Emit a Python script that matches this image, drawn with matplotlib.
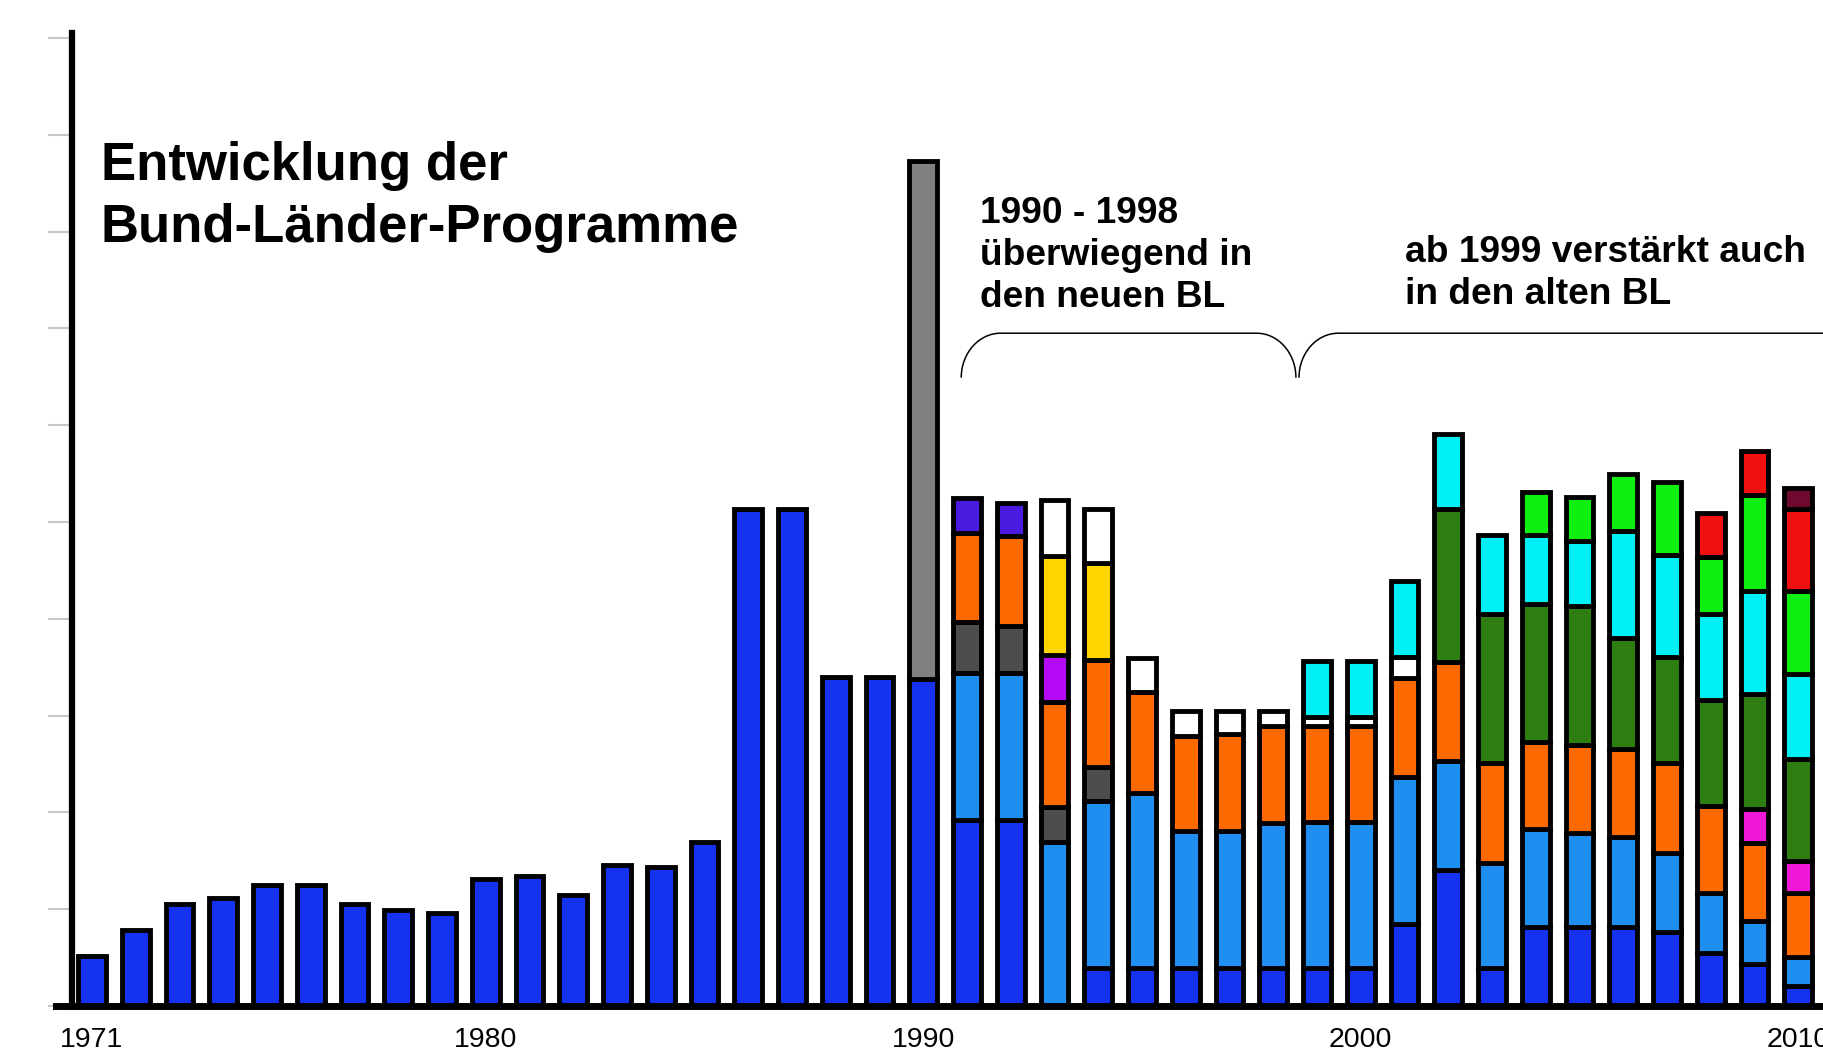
import numpy as np
import matplotlib
matplotlib.use("Agg")
import matplotlib.pyplot as plt
from matplotlib.path import Path
from matplotlib.patches import PathPatch

# early years: only one programme (blue)
years_early = [1971, 1972, 1973, 1974, 1975, 1976, 1977, 1978, 1979, 1980,
               1981, 1982, 1983, 1984, 1985, 1986, 1987, 1988, 1989]
blue_early = [0.52, 0.78, 1.05, 1.12, 1.25, 1.25, 1.05, 0.99, 0.96, 1.31,
              1.34, 1.15, 1.46, 1.44, 1.69, 5.13, 5.13, 3.40, 3.40]

# 1990 - 2010, stacked programmes (bottom -> top)
years_late = [1990, 1991, 1992, 1993, 1994, 1995, 1996, 1997, 1998, 1999, 2000,
              2001, 2002, 2003, 2004, 2005, 2006, 2007, 2008, 2009, 2010]
blue = [3.38, 1.92, 1.92, 0, 0.39, 0.39, 0.39, 0.39, 0.39, 0.39, 0.39,
        0.85, 1.40, 0.39, 0.82, 0.82, 0.82, 0.76, 0.55, 0.43, 0.21]
lightblue = [0, 1.52, 1.52, 1.69, 1.73, 1.81, 1.42, 1.42, 1.50, 1.51, 1.51,
             1.52, 1.13, 1.09, 1.01, 0.97, 0.93, 0.82, 0.62, 0.45, 0.30]
darkgray = [0, 0.53, 0.49, 0.37, 0.35, 0, 0, 0, 0, 0, 0,
            0, 0, 0, 0, 0, 0, 0, 0, 0, 0]
orange = [0, 0.92, 0.92, 1.08, 1.10, 1.04, 0.98, 1.00, 1.00, 0.99, 0.99,
          1.02, 1.02, 1.03, 0.90, 0.91, 0.90, 0.93, 0.90, 0.80, 0.66]
magenta = [0, 0, 0, 0, 0, 0, 0, 0, 0, 0, 0,
           0, 0, 0, 0, 0, 0, 0, 0, 0.35, 0.33]
violet = [0, 0, 0, 0.49, 0, 0, 0, 0, 0, 0, 0,
          0, 0, 0, 0, 0, 0, 0, 0, 0, 0]
yellow = [0, 0, 0, 1.02, 1.01, 0, 0, 0, 0, 0, 0,
          0, 0, 0, 0, 0, 0, 0, 0, 0, 0]
indigo = [0, 0.36, 0.35, 0, 0, 0, 0, 0, 0, 0, 0,
          0, 0, 0, 0, 0, 0, 0, 0, 0, 0]
white = [0, 0, 0, 0.58, 0.55, 0.35, 0.26, 0.24, 0.16, 0.10, 0.10,
         0.22, 0, 0, 0, 0, 0, 0, 0, 0, 0]
dgreen = [0, 0, 0, 0, 0, 0, 0, 0, 0, 0, 0,
          0, 1.58, 1.54, 1.42, 1.43, 1.15, 1.10, 1.09, 1.19, 1.05]
cyan = [0, 0, 0, 0, 0, 0, 0, 0, 0, 0.57, 0.57,
        0.78, 0.78, 0.82, 0.72, 0.67, 1.11, 1.05, 0.89, 1.07, 0.88]
green = [0, 0, 0, 0, 0, 0, 0, 0, 0, 0, 0,
         0, 0, 0, 0.44, 0.46, 0.59, 0.75, 0.59, 0.99, 0.86]
red = [0, 0, 0, 0, 0, 0, 0, 0, 0, 0, 0,
       0, 0, 0, 0, 0, 0, 0, 0.45, 0.45, 0.84]
maroon = [0, 0, 0, 0, 0, 0, 0, 0, 0, 0, 0,
          0, 0, 0, 0, 0, 0, 0, 0, 0, 0.22]
gray = [5.35, 0, 0, 0, 0, 0, 0, 0, 0, 0, 0,
        0, 0, 0, 0, 0, 0, 0, 0, 0, 0]

stack = [
    (blue, '#1432F0'),
    (lightblue, '#1E8FF0'),
    (darkgray, '#4D4D4D'),
    (orange, '#FF6A00'),
    (magenta, '#F018D8'),
    (violet, '#B40AF5'),
    (yellow, '#FFD500'),
    (indigo, '#4A1AE0'),
    (white, '#FFFFFF'),
    (dgreen, '#2E7D10'),
    (cyan, '#00F0F5'),
    (green, '#10F010'),
    (red, '#F01010'),
    (maroon, '#6E0A30'),
    (gray, '#808080'),
]

tick_years = [1971, 1980, 1990, 2000, 2010]

plt.rcParams['font.family'] = ['Liberation Sans', 'DejaVu Sans']

W, H = 1824, 1057
fig = plt.figure(figsize=(W / 100, H / 100), dpi=100)
ax = fig.add_axes([72 / W, 51 / H, 1 - 72 / W, 972.9 / H])
ax.set_xlim(1970.545, 2010.59)
ax.set_ylim(0, 10.05)

bw = 0.635
lw = 3.5

ax.bar(years_early, blue_early, width=bw, color='#1432F0', edgecolor='black', linewidth=lw, zorder=2)

yl = np.array(years_late)
bottom = np.zeros(len(years_late))
for vals, col in stack:
    v = np.array(vals)
    m = v > 0
    ax.bar(yl[m], v[m], bottom=bottom[m], width=bw, color=col,
           edgecolor='black', linewidth=lw, zorder=2)
    bottom += v

# axes look
for s in ['top', 'right', 'bottom']:
    ax.spines[s].set_visible(False)
ax.spines['left'].set_linewidth(4.5)
ax.spines['left'].set_zorder(4)
ax.axhline(0, xmin=-0.009, xmax=1, color='black', lw=5, clip_on=False, zorder=3)

ax.set_yticks(range(11))
ax.set_yticklabels([])
ax.tick_params(axis='y', direction='out', length=17, width=1.5, color='#C8C8C8')
ax.set_xticks(tick_years)
ax.set_xticklabels([str(y) for y in tick_years])
ax.tick_params(axis='x', length=0, labelsize=20.5, pad=15)

# title and notes
def lines(x, ys, texts, size):
    for y, t in zip(ys, texts):
        fig.text(x / W, 1 - y / H, t, fontsize=size, fontweight='bold', va='baseline', ha='left')

lines(101, [180, 242], ['Entwicklung der', 'Bund-Länder-Programme'], 38)
lines(980, [223, 265, 307], ['1990 - 1998', 'überwiegend in', 'den neuen BL'], 26.7)
lines(1405, [262, 304], ['ab 1999 verstärkt auch', 'in den alten BL'], 26.7)

# curly brackets over the two periods
def bracket(x0, x1, yb, yt, r):
    k = 0.552
    verts = [(x0, yb), (x0, yb + k * (yt - yb)), (x0 + (1 - k) * r, yt), (x0 + r, yt),
             (x1 - r, yt),
             (x1 - (1 - k) * r, yt), (x1, yb + k * (yt - yb)), (x1, yb)]
    codes = [Path.MOVETO, Path.CURVE4, Path.CURVE4, Path.CURVE4,
             Path.LINETO,
             Path.CURVE4, Path.CURVE4, Path.CURVE4]
    ax.add_patch(PathPatch(Path(verts, codes), fill=False, lw=1.1, color='black', zorder=3))

bracket(1990.87, 1998.52, 6.49, 6.95, 0.9)
bracket(1998.59, 2011.5, 6.49, 6.95, 0.9)

fig.savefig('out.png', dpi=100, facecolor='white')
